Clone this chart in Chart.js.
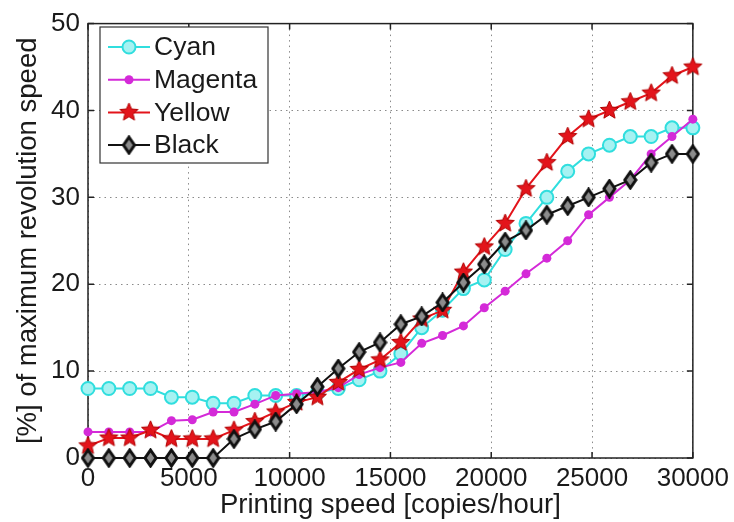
<!DOCTYPE html>
<html>
<head>
<meta charset="utf-8">
<script src="https://cdn.jsdelivr.net/npm/chart.js@4/dist/chart.umd.min.js"></script>
<style>
  html, body { margin: 0; padding: 0; background: #fff; }
  #wrap { width: 734px; height: 522px; }
</style>
</head>
<body>
<div id="wrap"><canvas id="mycanvas" width="734" height="522"></canvas></div>
<script>
// printing speed [copies/hour] for each measured point
var speed = [0, 1034, 2069, 3103, 4138, 5172, 6207, 7241, 8276, 9310,
  10345, 11379, 12414, 13448, 14483, 15517, 16552, 17586, 18621, 19655,
  20690, 21724, 22759, 23793, 24828, 25862, 26897, 27931, 28966, 30000];

var cyan = [8, 8, 8, 8, 7, 7, 6.3, 6.3, 7.2, 7.2,
  7.2, 7.5, 8, 9, 10, 12, 15, 17, 19.5, 20.5,
  24, 27, 30, 33, 35, 36, 37, 37, 38, 38];
var magenta = [3, 3, 3, 3, 4.3, 4.4, 5.3, 5.3, 6.2, 7.2,
  7.4, 7.6, 8.1, 9.6, 10.4, 11, 13.2, 14.1, 15.2, 17.3,
  19.2, 21.2, 23, 25, 28, 30, 32, 35, 37, 39];
var yellow = [1.4, 2.3, 2.3, 3.2, 2.2, 2.2, 2.2, 3.2, 4.2, 5.3,
  6.4, 7, 8.7, 10.2, 11.3, 13.3, 16, 17, 21.4, 24.3,
  27, 31, 34, 37, 39, 40, 41, 42, 44, 45];
var black = [0, 0, 0, 0, 0, 0, 0, 2.2, 3.3, 4.2,
  6.2, 8.2, 10.3, 12.2, 13.3, 15.4, 16.3, 17.9, 20.2, 22.3,
  24.9, 26.2, 28, 29, 30, 31, 32, 34, 35, 35];

var seriesNames = ['Cyan', 'Magenta', 'Yellow', 'Black'];
var xTicks = [0, 5000, 10000, 15000, 20000, 25000, 30000];
var yTicks = [0, 10, 20, 30, 40, 50];

var FONT = '"Liberation Sans", Arial, Helvetica, sans-serif';

function pts(vals){
  var out = [];
  for (var i in vals) out.push({x: speed[i], y: vals[i]});
  return out;
}

// filled five point star marker
function makeStar(r, color){
  var c = document.createElement('canvas');
  c.width = c.height = Math.ceil(2*r + 2);
  var g = c.getContext('2d');
  g.beginPath();
  for (var k = 0; k < 10; k++){
    var rad = (k % 2) ? r*0.45 : r;
    var a = -Math.PI/2 + k*Math.PI/5;
    g.lineTo(c.width/2 + rad*Math.cos(a), c.height/2 + rad*Math.sin(a));
  }
  g.closePath();
  g.fillStyle = color;
  g.fill();
  g.strokeStyle = '#b00000';
  g.lineWidth = 1;
  g.stroke();
  return c;
}

// tall open diamond marker
function makeDiamond(w, h, color){
  var c = document.createElement('canvas');
  c.width = w + 4; c.height = h + 4;
  var g = c.getContext('2d');
  var cx = c.width/2, cy = c.height/2;
  g.beginPath();
  g.moveTo(cx, cy - h/2);
  g.lineTo(cx + w/2, cy);
  g.lineTo(cx, cy + h/2);
  g.lineTo(cx - w/2, cy);
  g.closePath();
  g.fillStyle = '#8c8c8c';
  g.fill();
  g.strokeStyle = color;
  g.lineWidth = 3;
  g.stroke();
  return c;
}

var starImg = makeStar(9.5, '#e3141b');
var diamondImg = makeDiamond(11, 16, '#111');

var chartdata = {
  datasets: [
    {
      label: seriesNames[0],
      data: pts(cyan),
      borderColor: '#30dede',
      borderWidth: 2,
      pointStyle: 'circle',
      pointRadius: 6.5,
      pointBorderWidth: 2,
      pointBorderColor: '#30dede',
      pointBackgroundColor: '#a6f2f2',
      order: 3
    },
    {
      label: seriesNames[1],
      data: pts(magenta),
      borderColor: '#d42ad8',
      borderWidth: 2,
      pointStyle: 'circle',
      pointRadius: 4.5,
      pointBorderWidth: 0,
      pointBackgroundColor: '#d42ad8',
      order: 2
    },
    {
      label: seriesNames[2],
      data: pts(yellow),
      borderColor: '#e3141b',
      borderWidth: 2,
      pointStyle: starImg,
      order: 1
    },
    {
      label: seriesNames[3],
      data: pts(black),
      borderColor: '#111',
      borderWidth: 2,
      pointStyle: diamondImg,
      order: 0
    }
  ]
};

// axes box with inward ticks, drawn under the data
var boxPlugin = {
  id: 'boxPlugin',
  beforeDatasetsDraw: function(chart){
    var ctx = chart.ctx, a = chart.chartArea;
    var xs = chart.scales.x, ys = chart.scales.y;
    ctx.save();
    ctx.strokeStyle = '#222';
    ctx.lineWidth = 1.5;
    ctx.strokeRect(a.left, a.top, a.right - a.left, a.bottom - a.top);
    ctx.beginPath();
    xTicks.forEach(function(v){
      var px = xs.getPixelForValue(v);
      ctx.moveTo(px, a.bottom); ctx.lineTo(px, a.bottom - 6);
      ctx.moveTo(px, a.top); ctx.lineTo(px, a.top + 6);
    });
    yTicks.forEach(function(v){
      var py = ys.getPixelForValue(v);
      ctx.moveTo(a.left, py); ctx.lineTo(a.left + 6, py);
      ctx.moveTo(a.right, py); ctx.lineTo(a.right - 6, py);
    });
    ctx.stroke();
    ctx.restore();
  }
};

// boxed legend in the upper left, line sample with marker
var legendPlugin = {
  id: 'legendPlugin',
  afterDraw: function(chart){
    var ctx = chart.ctx;
    var left = 100, top = 27, w = 168, h = 136;
    ctx.save();
    ctx.fillStyle = '#fff';
    ctx.fillRect(left, top, w, h);
    ctx.strokeStyle = '#333';
    ctx.lineWidth = 1.2;
    ctx.strokeRect(left, top, w, h);
    chart.data.datasets.forEach(function(ds, i){
      var y = 47 + i*32.7;
      ctx.strokeStyle = ds.borderColor;
      ctx.lineWidth = 2;
      ctx.beginPath();
      ctx.moveTo(108, y); ctx.lineTo(150, y);
      ctx.stroke();
      var mx = 129;
      if (ds.pointStyle === 'circle'){
        ctx.beginPath();
        ctx.arc(mx, y, ds.pointRadius, 0, Math.PI*2);
        ctx.fillStyle = ds.pointBackgroundColor;
        ctx.fill();
        if (ds.pointBorderWidth > 0){
          ctx.lineWidth = ds.pointBorderWidth;
          ctx.strokeStyle = ds.pointBorderColor;
          ctx.stroke();
        }
      } else {
        var img = ds.pointStyle;
        ctx.drawImage(img, mx - img.width/2, y - img.height/2);
      }
      ctx.fillStyle = '#1a1a1a';
      ctx.font = '26.5px ' + FONT;
      ctx.textBaseline = 'middle';
      ctx.textAlign = 'left';
      ctx.fillText(ds.label, 154, y + 1);
    });
    ctx.restore();
  }
};

var ctx = document.getElementById('mycanvas');
var lineGraph = new Chart(ctx, {
  type: 'line',
  data: chartdata,
  plugins: [boxPlugin, legendPlugin],
  options: {
    responsive: false,
    animation: false,
    clip: false,
    layout: { padding: { left: 0, right: 41, top: 17, bottom: 0 } },
    elements: { line: { tension: 0 } },
    plugins: {
      legend: { display: false },
      tooltip: { enabled: false }
    },
    scales: {
      x: {
        type: 'linear',
        min: 0,
        max: 30000,
        afterBuildTicks: function(scale){
          scale.ticks = xTicks.map(function(v){ return {value: v}; });
        },
        afterFit: function(scale){ scale.height = 64; },
        grid: { color: '#8a8a8a', lineWidth: 1, drawTicks: false },
        border: { display: false, dash: [1.5, 4] },
        ticks: {
          color: '#1a1a1a',
          font: { family: FONT, size: 26 },
          padding: 5,
          maxRotation: 0,
          autoSkip: false,
          callback: function(v){ return String(v); }
        },
        title: {
          display: true,
          text: 'Printing speed [copies/hour]',
          color: '#1a1a1a',
          font: { family: FONT, size: 27.5 },
          padding: { top: 0, bottom: 0 }
        }
      },
      y: {
        min: 0,
        max: 50,
        afterBuildTicks: function(scale){
          scale.ticks = yTicks.map(function(v){ return {value: v}; });
        },
        afterFit: function(scale){ scale.width = 88; },
        grid: { color: '#8a8a8a', lineWidth: 1, drawTicks: false },
        border: { display: false, dash: [1.5, 4] },
        ticks: {
          color: '#1a1a1a',
          font: { family: FONT, size: 26 },
          padding: 8,
          autoSkip: false,
          callback: function(v){ return String(v); }
        },
        title: {
          display: true,
          text: '[%] of maximum revolution speed',
          color: '#1a1a1a',
          font: { family: FONT, size: 27.5 },
          padding: { top: 12, bottom: 0 }
        }
      }
    }
  }
});
</script>
</body>
</html>
